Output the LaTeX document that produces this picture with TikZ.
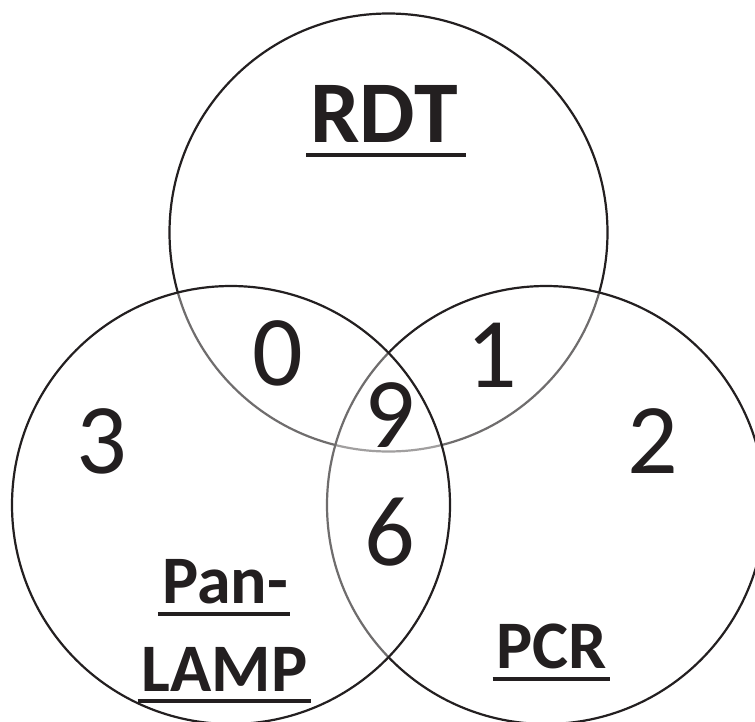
\documentclass[tikz,border=0pt]{standalone}
\usepackage{fontspec}
\setmainfont{Carlito}
\definecolor{ink}{RGB}{35,31,32}
\tikzset{ring/.style={draw=ink,line width=2.2pt,fill=white,fill opacity=.35}}
\tikzset{num/.style={inner sep=0pt,anchor=base,text=ink,font=\fontsize{100}{100}\selectfont}}
\tikzset{lbl/.style={inner sep=0pt,anchor=base,text=ink,font=\bfseries\fontsize{68}{68}\selectfont}}
\tikzset{uline/.style={draw=ink,line width=4.7pt}}

\begin{document}
\begin{tikzpicture}[x=1pt,y=-1pt]
    \useasboundingbox (0,0) rectangle (755,721);
    \coordinate (Ctop) at (388.5,232.5);
    \coordinate (Cleft) at (231,505);
    \coordinate (Cright) at (546,505);
    \draw[ring] (Ctop) circle[radius=219pt];
    \draw[ring] (Cright) circle[radius=219pt];
    \draw[ring] (Cleft) circle[radius=219pt];
    % counts
    \node[num] (n3) at (102,473) {3};
    \node[num] (n0) at (278,385) {0};
    \node[num] (n1) at (492,387) {1};
    \node[num] (n2) at (653,473) {2};
    \node[num] (n9) at (390,447) {9};
    \node[num] (n6) at (390,565) {6};
    % set names
    \node[lbl,font=\bfseries\fontsize{88}{88}\selectfont] (rdt) at (384,142) {RDT};
    \node[lbl] (pan) at (225,603) {Pan-};
    \node[lbl] (lamp) at (224.5,691) {LAMP};
    \node[lbl] (pcr) at (552,668) {PCR};
    \draw[uline] ([shift={(-4,13)}]rdt.base west) -- ([shift={(8,13)}]rdt.base east);
    \draw[uline] ([shift={(-4,11)}]pan.base west) -- ([shift={(2,11)}]pan.base east);
    \draw[uline] ([shift={(-4,10)}]lamp.base west) -- ([shift={(4,10)}]lamp.base east);
    \draw[uline] ([shift={(-4,11)}]pcr.base west) -- ([shift={(3,11)}]pcr.base east);
  \end{tikzpicture}
\end{document}
